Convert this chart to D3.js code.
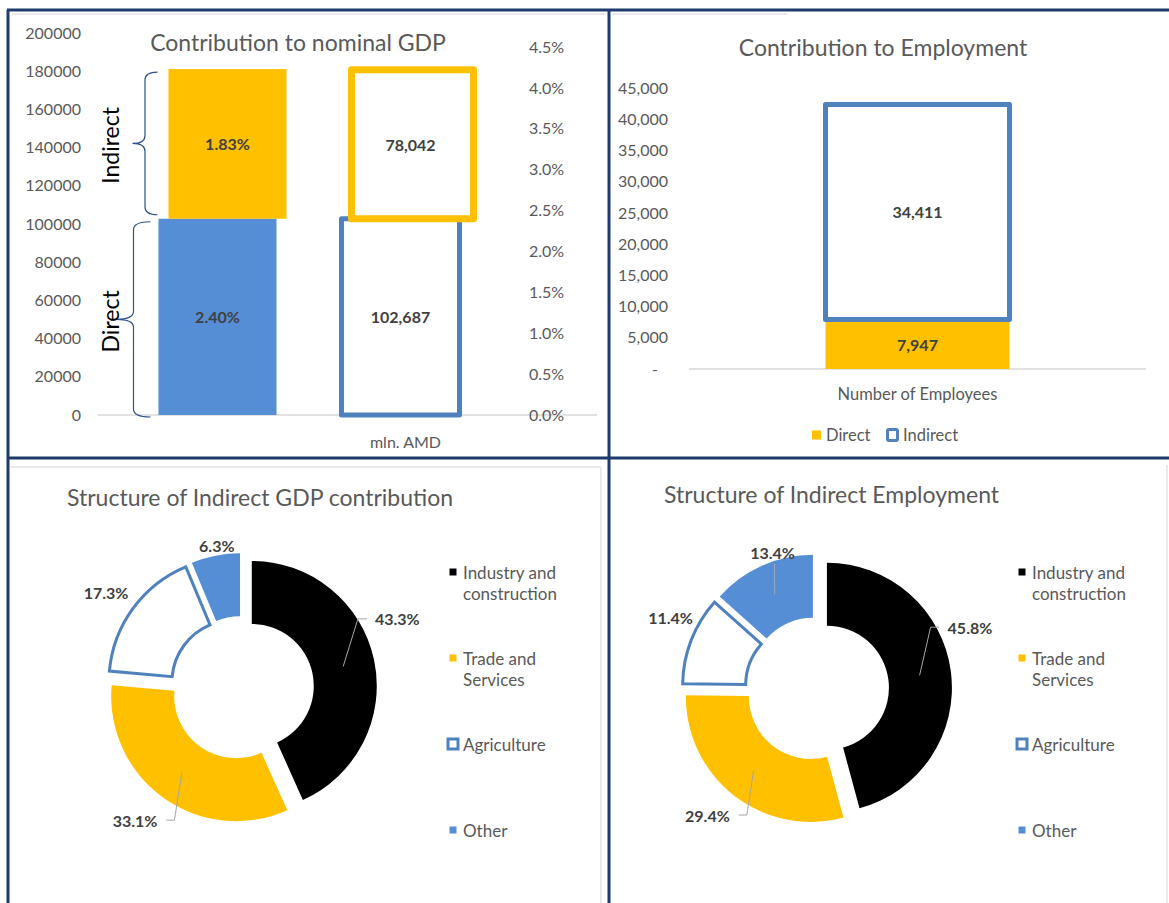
<!DOCTYPE html>
<html>
<head>
<meta charset="utf-8">
<script src="https://cdn.jsdelivr.net/npm/d3@7"></script>
<style>
  html, body { margin: 0; padding: 0; background: #fff; }
  svg { display: block; font-family: Lato, "Noto Sans", sans-serif; }
</style>
</head>
<body>
<svg id="chart" width="1169" height="903"></svg>
<script>
// ---- Contribution to nominal GDP ----
const gdpSeries = ["Direct", "Indirect"];
const gdpShare = [0.0240, 0.0183];          // share of nominal GDP
const gdpAmd = [102687, 78042];             // mln. AMD
const gdpCategories = ["share", "mln. AMD"];
const gdpAmdTicks = [0, 20000, 40000, 60000, 80000, 100000, 120000, 140000, 160000, 180000, 200000];
const gdpShareTicks = [0, 0.005, 0.01, 0.015, 0.02, 0.025, 0.03, 0.035, 0.04, 0.045];

// ---- Contribution to Employment ----
const empSeries = ["Direct", "Indirect"];
const empCategory = "Number of Employees";
const empValues = [7947, 34411];
const empTicks = [0, 5000, 10000, 15000, 20000, 25000, 30000, 35000, 40000, 45000];

// ---- Structure of indirect effects ----
const sectors = ["Industry and construction", "Trade and Services", "Agriculture", "Other"];
const sectorLegendLines = [["Industry and", "construction"], ["Trade and", "Services"], ["Agriculture"], ["Other"]];
const gdpStructure = [43.3, 33.1, 17.3, 6.3];
const empStructure = [45.8, 29.4, 11.4, 13.4];

// ---- styling ----
const BLUE_FILL = "#558ed5";
const BLUE_LINE = "#4f81bd";
const YELLOW = "#ffc000";
const AXIS_TEXT = "#595959";
const LABEL_TEXT = "#404040";
const GRID = "#d9d9d9";
const sectorFill = ["#000000", YELLOW, "#ffffff", BLUE_FILL];

const svg = d3.select("#chart");

function styleAxis(sel) {
  sel.select(".domain").remove();
  sel.selectAll("text")
    .attr("font-family", null)
    .style("font-size", "16px")
    .attr("fill", AXIS_TEXT);
  sel.attr("font-family", null).attr("font-size", null);
}

function title(x, y, text, anchor) {
  svg.append("text").attr("x", x).attr("y", y)
    .attr("text-anchor", anchor).attr("dominant-baseline", "central")
    .attr("fill", AXIS_TEXT).style("font-size", "23px").text(text);
}

// ---- panel frames ----
const lightFrame = svg.append("g").attr("stroke", "#e3e3e3").attr("stroke-width", 1.5);
[[12, 14, 606, 14], [612, 14, 787, 14], [10, 467, 601, 467], [601, 467, 601, 903], [1167, 465, 1167, 903]]
  .forEach(l => lightFrame.append("line").attr("x1", l[0]).attr("y1", l[1]).attr("x2", l[2]).attr("y2", l[3]));

// =====================================================================
// Contribution to nominal GDP
// =====================================================================
const yAmd = d3.scaleLinear().domain([0, 200000]).range([415, 33]);
const yShare = d3.scaleLinear().domain([0, 0.045]).range([415, 47]);
const xGdp = d3.scaleBand().domain(gdpCategories).range([67, 551]).paddingInner(0.355).paddingOuter(0.5);
const bw = xGdp.bandwidth();
const seriesShift = [0, 10];

const shareStack = d3.stack().keys(gdpSeries)([Object.fromEntries(gdpSeries.map((k, i) => [k, gdpShare[i]]))]);
const amdStack = d3.stack().keys(gdpSeries)([Object.fromEntries(gdpSeries.map((k, i) => [k, gdpAmd[i]]))]);

const gGdp = svg.append("g");

gGdp.append("line").attr("x1", 98).attr("x2", 597)
  .attr("y1", yAmd(0)).attr("y2", yAmd(0)).attr("stroke", GRID).attr("stroke-width", 1.5);

gGdp.append("g").attr("transform", "translate(81,0)")
  .call(d3.axisLeft(yAmd).tickValues(gdpAmdTicks).tickSize(0).tickPadding(0).tickFormat(d3.format("d")))
  .call(styleAxis);
gGdp.append("g").attr("transform", "translate(529,0)")
  .call(d3.axisRight(yShare).tickValues(gdpShareTicks).tickSize(0).tickPadding(0).tickFormat(d3.format(".1%")))
  .call(styleAxis);

// filled bars: share of GDP
shareStack.forEach((s, i) => {
  const seg = s[0];
  gGdp.append("rect")
    .attr("x", xGdp("share") + seriesShift[i]).attr("width", bw)
    .attr("y", yShare(seg[1])).attr("height", yShare(seg[0]) - yShare(seg[1]))
    .attr("fill", i === 0 ? BLUE_FILL : YELLOW);
  gGdp.append("text")
    .attr("x", xGdp("share") + seriesShift[i] + bw / 2)
    .attr("y", (yShare(seg[0]) + yShare(seg[1])) / 2)
    .attr("text-anchor", "middle").attr("dominant-baseline", "central")
    .attr("fill", LABEL_TEXT).style("font-size", "16px").style("font-weight", "bold")
    .text(d3.format(".2%")(gdpShare[i]));
});

// outlined bars: mln. AMD
const outlineWidth = [5, 7];
amdStack.forEach((s, i) => {
  const seg = s[0];
  gGdp.append("rect")
    .attr("x", xGdp("mln. AMD") + seriesShift[i]).attr("width", bw + (i === 1 ? 4 : 0))
    .attr("y", yAmd(seg[1])).attr("height", yAmd(seg[0]) - yAmd(seg[1]))
    .attr("fill", "none").attr("stroke", i === 0 ? BLUE_LINE : YELLOW)
    .attr("stroke-width", outlineWidth[i]).attr("stroke-linejoin", "round");
});
amdStack.forEach((s, i) => {
  const seg = s[0];
  gGdp.append("text")
    .attr("x", xGdp("mln. AMD") + seriesShift[i] + bw / 2)
    .attr("y", (yAmd(seg[0]) + yAmd(seg[1])) / 2)
    .attr("text-anchor", "middle").attr("dominant-baseline", "central")
    .attr("fill", LABEL_TEXT).style("font-size", "16px").style("font-weight", "bold")
    .text(d3.format(",")(gdpAmd[i]));
});

gGdp.append("text")
  .attr("x", xGdp("mln. AMD") + bw / 2 + seriesShift[1] / 2).attr("y", 441)
  .attr("text-anchor", "middle").attr("dominant-baseline", "central")
  .attr("fill", AXIS_TEXT).style("font-size", "16px").text("mln. AMD");

// braces marking the direct and indirect parts
const braceGap = [8, 11];
const braceDepth = [34, 25];
function bracePath(xEnd, y0, y1, depth) {
  const xs = xEnd - depth / 2, xt = xEnd - depth, ym = (y0 + y1) / 2, c = 8;
  return `M${xEnd},${y0} Q${xs},${y0} ${xs},${y0 + c} L${xs},${ym - c} Q${xs},${ym} ${xt},${ym}` +
         ` Q${xs},${ym} ${xs},${ym + c} L${xs},${y1 - c} Q${xs},${y1} ${xEnd},${y1}`;
}
shareStack.forEach((s, i) => {
  const seg = s[0];
  const top = yShare(seg[1]) + 3, bottom = yShare(seg[0]) - (i === 0 ? -2 : 4);
  const xEnd = xGdp("share") + seriesShift[i] - braceGap[i];
  gGdp.append("path").attr("d", bracePath(xEnd, top, bottom, braceDepth[i]))
    .attr("fill", "none").attr("stroke", "#2f528f").attr("stroke-width", 1.2);
  const ym = (top + bottom) / 2 + 2;
  gGdp.append("text")
    .attr("transform", `translate(110,${ym}) rotate(-90)`)
    .attr("text-anchor", "middle").attr("dominant-baseline", "central")
    .attr("fill", "#000").style("font-size", "23px").text(gdpSeries[i]);
});

title(298, 42, "Contribution to nominal GDP", "middle");

// =====================================================================
// Contribution to Employment
// =====================================================================
const yEmp = d3.scaleLinear().domain([0, 45000]).range([369, 88]);
const xEmp = d3.scaleBand().domain([empCategory]).range([689, 1146]).paddingOuter(0.742);
const ebw = xEmp.bandwidth();
const empStack = d3.stack().keys(empSeries)([Object.fromEntries(empSeries.map((k, i) => [k, empValues[i]]))]);

const gEmp = svg.append("g");
gEmp.append("line").attr("x1", 689).attr("x2", 1146)
  .attr("y1", yEmp(0)).attr("y2", yEmp(0)).attr("stroke", GRID).attr("stroke-width", 1.5);

gEmp.append("g").attr("transform", "translate(668,0)")
  .call(d3.axisLeft(yEmp).tickValues(empTicks).tickSize(0).tickPadding(0)
    .tickFormat(d => d === 0 ? "-" : d3.format(",")(d)))
  .call(styleAxis)
  .call(g => g.selectAll(".tick").filter(d => d === 0).select("text").attr("dx", -10));

const directSeg = empStack[0][0], indirectSeg = empStack[1][0];
gEmp.append("rect")
  .attr("x", xEmp(empCategory)).attr("width", ebw)
  .attr("y", yEmp(directSeg[1])).attr("height", yEmp(directSeg[0]) - yEmp(directSeg[1]))
  .attr("fill", YELLOW);
gEmp.append("rect")
  .attr("x", xEmp(empCategory)).attr("width", ebw)
  .attr("y", yEmp(indirectSeg[1])).attr("height", yEmp(indirectSeg[0]) - yEmp(indirectSeg[1]))
  .attr("fill", "none").attr("stroke", BLUE_LINE).attr("stroke-width", 5).attr("stroke-linejoin", "round");
empStack.forEach((s, i) => {
  const seg = s[0];
  gEmp.append("text")
    .attr("x", xEmp(empCategory) + ebw / 2)
    .attr("y", (yEmp(seg[0]) + yEmp(seg[1])) / 2)
    .attr("text-anchor", "middle").attr("dominant-baseline", "central")
    .attr("fill", LABEL_TEXT).style("font-size", "16px").style("font-weight", "bold")
    .text(d3.format(",")(empValues[i]));
});
gEmp.append("text")
  .attr("x", xEmp(empCategory) + ebw / 2).attr("y", 394)
  .attr("text-anchor", "middle").attr("dominant-baseline", "central")
  .attr("fill", AXIS_TEXT).style("font-size", "16.5px").text(empCategory);

// legend
const empLegendX = [812, 886];
empSeries.forEach((name, i) => {
  const lg = gEmp.append("g").attr("transform", `translate(${empLegendX[i]},435)`);
  if (i === 0) {
    lg.append("rect").attr("x", 0).attr("y", -4.5).attr("width", 9).attr("height", 9).attr("fill", YELLOW);
    lg.append("text").attr("x", 14).attr("dominant-baseline", "central")
      .attr("fill", AXIS_TEXT).style("font-size", "16.5px").text(name);
  } else {
    lg.append("rect").attr("x", 1.5).attr("y", -5.5).attr("width", 10).attr("height", 11).attr("rx", 1.5)
      .attr("fill", "#fff").attr("stroke", BLUE_LINE).attr("stroke-width", 3);
    lg.append("text").attr("x", 17).attr("dominant-baseline", "central")
      .attr("fill", AXIS_TEXT).style("font-size", "16.5px").text(name);
  }
});

title(883, 47, "Contribution to Employment", "middle");

// =====================================================================
// Structure donuts
// =====================================================================
const R_OUT = 125, R_IN = 62, EXPLODE = 10;
const arc = d3.arc().innerRadius(R_IN).outerRadius(R_OUT);
const pie = d3.pie().sort(null).value(d => d);

function drawDonut(values, cx, cy, labelPlacement, legendX) {
  const g = svg.append("g").attr("transform", `translate(${cx},${cy})`);
  const arcs = pie(values);
  arcs.forEach((a, i) => {
    const mid = (a.startAngle + a.endAngle) / 2;
    const ox = EXPLODE * Math.sin(mid), oy = -EXPLODE * Math.cos(mid);
    const slice = g.append("path").attr("d", arc(a)).attr("transform", `translate(${ox},${oy})`)
      .attr("fill", sectorFill[i]);
    if (sectors[i] === "Agriculture") slice.attr("stroke", BLUE_LINE).attr("stroke-width", 3);

    const [angDeg, rad, leader] = labelPlacement[i];
    const ang = angDeg * Math.PI / 180;
    const lx = rad * Math.sin(ang), ly = -rad * Math.cos(ang);
    const label = g.append("text").attr("x", lx).attr("y", ly)
      .attr("text-anchor", "middle").attr("dominant-baseline", "central")
      .attr("fill", LABEL_TEXT).style("font-size", "16px").style("font-weight", "bold")
      .text(d3.format(".1f")(values[i]) + "%");
    if (leader) {
      const bb = label.node().getBBox();
      const [c0, c1] = arc.centroid(a);
      const sx = c0 + ox, sy = c1 + oy;
      let pts;
      if (leader === "below") {
        pts = [[sx, sy], [lx + 2, bb.y + bb.height + 2]];
      } else if (lx > sx) {
        pts = [[sx, sy], [bb.x - 17, ly], [bb.x - 8, ly]];
      } else {
        pts = [[sx, sy], [bb.x + bb.width + 17, ly], [bb.x + bb.width + 9, ly]];
      }
      g.append("path").attr("d", d3.line()(pts))
        .attr("fill", "none").attr("stroke", "#a6a6a6").attr("stroke-width", 1);
    }
  });

  // legend
  const lg = svg.append("g").attr("transform", `translate(${legendX},572)`);
  sectorLegendLines.forEach((lines, i) => {
    const row = lg.append("g").attr("transform", `translate(0,${i * 86})`);
    if (sectors[i] === "Agriculture") {
      row.append("rect").attr("x", -5).attr("y", -5).attr("width", 10).attr("height", 10)
        .attr("fill", "#fff").attr("stroke", BLUE_LINE).attr("stroke-width", 3);
    } else {
      row.append("rect").attr("x", -3.5).attr("y", -3.5).attr("width", 7).attr("height", 7)
        .attr("fill", sectorFill[i]);
    }
    lines.forEach((t, k) => {
      row.append("text").attr("x", 10).attr("y", k * 21.5)
        .attr("dominant-baseline", "central")
        .attr("fill", AXIS_TEXT).style("font-size", "17px").text(t);
    });
  });
}

drawDonut(gdpStructure, 242, 688,
  [[66, 170, "side"], [219, 170, "side"], [305, 166, null], [350, 145, null]], 453);
drawDonut(empStructure, 817, 689,
  [[68, 165, "side"], [221, 167, "side"], [296, 163, null], [342, 144, "below"]], 1022);

title(67, 497, "Structure of Indirect GDP contribution", "start");
title(664, 494, "Structure of Indirect Employment", "start");

// ---- dark panel dividers ----
const frame = svg.append("g").attr("stroke", "#1f3b6b").attr("stroke-width", 3);
[[7, 10, 1169, 10], [8, 10, 8, 903], [609, 10, 609, 903], [7, 458, 1169, 458]]
  .forEach(l => frame.append("line").attr("x1", l[0]).attr("y1", l[1]).attr("x2", l[2]).attr("y2", l[3]));
</script>
</body>
</html>
